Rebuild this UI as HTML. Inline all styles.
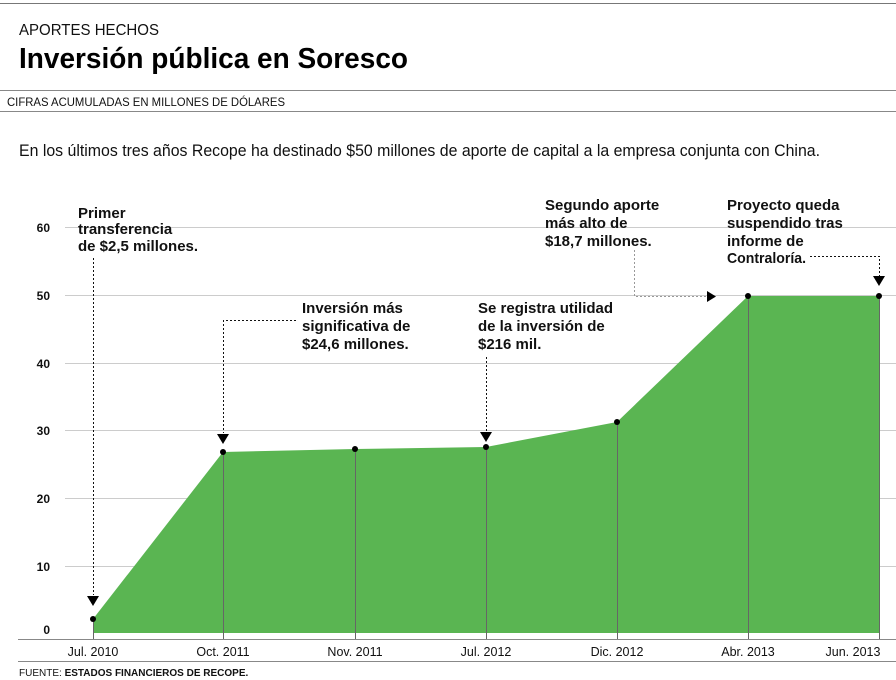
<!DOCTYPE html>
<html><head><meta charset="utf-8"><style>
body{margin:0;background:#fff;}
svg{display:block;font-family:"Liberation Sans",sans-serif;}
.a{font-size:15px;font-weight:bold;fill:#111;}
.t{font-size:12.5px;fill:#111;}
.y{font-size:12px;font-weight:bold;fill:#111;}
</style></head><body>
<svg width="896" height="680" viewBox="0 0 896 680">
<line x1="0" y1="3.5" x2="896" y2="3.5" stroke="#777"/>
<text x="19" y="35" font-size="16" fill="#111" textLength="140" lengthAdjust="spacingAndGlyphs">APORTES HECHOS</text>
<text x="19" y="68" font-size="29" font-weight="bold" fill="#000" textLength="389" lengthAdjust="spacingAndGlyphs">Inversión pública en Soresco</text>
<line x1="0" y1="90.5" x2="896" y2="90.5" stroke="#888"/>
<text x="7" y="106" font-size="12" fill="#111" textLength="278" lengthAdjust="spacingAndGlyphs">CIFRAS ACUMULADAS EN MILLONES DE DÓLARES</text>
<line x1="0" y1="111.5" x2="896" y2="111.5" stroke="#888"/>
<text x="19" y="156" font-size="17" fill="#111" textLength="801" lengthAdjust="spacingAndGlyphs">En los últimos tres años Recope ha destinado $50 millones de aporte de capital a la empresa conjunta con China.</text>
<g stroke="#ccc" stroke-width="1">
<line x1="65" y1="227.5" x2="896" y2="227.5"/>
<line x1="65" y1="295.5" x2="896" y2="295.5"/>
<line x1="65" y1="363.5" x2="896" y2="363.5"/>
<line x1="65" y1="430.5" x2="896" y2="430.5"/>
<line x1="65" y1="498.5" x2="896" y2="498.5"/>
<line x1="65" y1="566.5" x2="896" y2="566.5"/>
</g>
<g class="y" text-anchor="end">
<text x="50" y="232">60</text><text x="50" y="300">50</text><text x="50" y="368">40</text>
<text x="50" y="435">30</text><text x="50" y="503">20</text><text x="50" y="571">10</text><text x="50" y="634">0</text>
</g>
<polygon points="93,619 223,452 355,449 486,447 617,422 748,296 879,296 879,633 93,633" fill="#5ab552"/>
<g stroke="#666" stroke-width="1">
<line x1="93.5" y1="619" x2="93.5" y2="640"/><line x1="223.5" y1="452" x2="223.5" y2="640"/>
<line x1="355.5" y1="449" x2="355.5" y2="640"/><line x1="486.5" y1="447" x2="486.5" y2="640"/>
<line x1="617.5" y1="422" x2="617.5" y2="640"/><line x1="748.5" y1="296" x2="748.5" y2="640"/>
<line x1="879.5" y1="296" x2="879.5" y2="640"/>
</g>
<line x1="18" y1="639.5" x2="896" y2="639.5" stroke="#888"/>
<g fill="#000">
<circle cx="93" cy="619" r="3"/><circle cx="223" cy="452" r="3"/><circle cx="355" cy="449" r="3"/>
<circle cx="486" cy="447" r="3"/><circle cx="617" cy="422" r="3"/><circle cx="748" cy="296" r="3"/><circle cx="879" cy="296" r="3"/>
</g>
<g class="t" text-anchor="middle">
<text x="93" y="656">Jul. 2010</text><text x="223" y="656">Oct. 2011</text><text x="355" y="656">Nov. 2011</text>
<text x="486" y="656">Jul. 2012</text><text x="617" y="656">Dic. 2012</text><text x="748" y="656">Abr. 2013</text><text x="853" y="656">Jun. 2013</text>
</g>
<line x1="18" y1="661.5" x2="896" y2="661.5" stroke="#888"/>
<text x="19" y="676" font-size="10" fill="#111">FUENTE: <tspan font-weight="bold">ESTADOS FINANCIEROS DE RECOPE.</tspan></text>
<g fill="none" stroke="#111" stroke-dasharray="2,2" stroke-width="1">
<polyline points="93.5,258 93.5,595"/>
<polyline points="296,320.5 223.5,320.5 223.5,433"/>
<polyline points="486.5,357 486.5,431"/>
</g>
<g fill="none" stroke="#999" stroke-dasharray="2,2"><polyline points="634.5,250 634.5,296.5 707,296.5"/></g>
<g fill="none" stroke="#111" stroke-dasharray="2,2"><polyline points="810,256.5 879.5,256.5 879.5,276"/></g>
<g fill="#000">
<polygon points="87,596 99,596 93,606"/>
<polygon points="217,434 229,434 223,444"/>
<polygon points="480,432 492,432 486,442"/>
<polygon points="707,291 707,302 716,296.5"/>
<polygon points="873,276 885,276 879,286"/>
</g>
<g class="a">
<text x="78" y="218">Primer</text><text x="78" y="234">transferencia</text><text x="78" y="251">de $2,5 millones.</text>
<text x="302" y="313">Inversión más</text><text x="302" y="331">significativa de</text><text x="302" y="349">$24,6 millones.</text>
<text x="478" y="313">Se registra utilidad</text><text x="478" y="331">de la inversión de</text><text x="478" y="349">$216 mil.</text>
<text x="545" y="210">Segundo aporte</text><text x="545" y="228">más alto de</text><text x="545" y="246">$18,7 millones.</text>
<text x="727" y="210">Proyecto queda</text><text x="727" y="228">suspendido tras</text><text x="727" y="246">informe de</text><text x="727" y="263" textLength="79" lengthAdjust="spacingAndGlyphs">Contraloría.</text>
</g>
</svg>
</body></html>
